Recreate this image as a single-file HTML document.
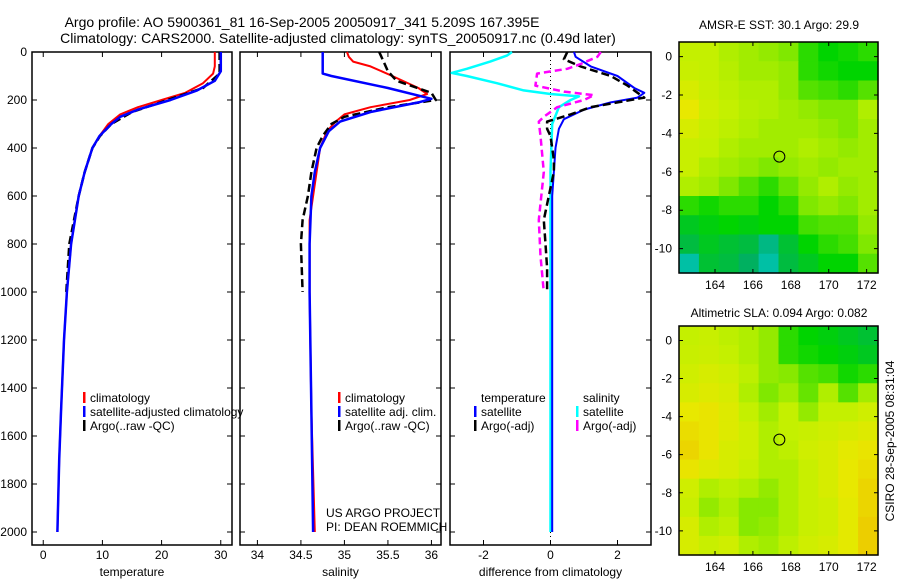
<!DOCTYPE html>
<html><head><meta charset="utf-8">
<style>
html,body{margin:0;padding:0;background:#fff;}
svg text{font-family:"Liberation Sans",sans-serif;fill:#000;}
</style></head>
<body>
<svg id="fig" width="900" height="580" xmlns="http://www.w3.org/2000/svg">
<text x="302" y="27" font-size="14" text-anchor="middle">Argo profile: AO 5900361_81 16-Sep-2005 20050917_341 5.209S 167.395E</text>
<text x="338" y="43" font-size="14" text-anchor="middle">Climatology: CARS2000. Satellite-adjusted climatology: synTS_20050917.nc (0.49d later)</text>
<text x="779" y="29" font-size="12" text-anchor="middle">AMSR-E SST: 30.1 Argo: 29.9</text>
<text x="779" y="317" font-size="12" text-anchor="middle">Altimetric SLA: 0.094 Argo: 0.082</text>
<text x="0" y="0" font-size="12" text-anchor="middle" transform="translate(894,441) rotate(-90)">CSIRO 28-Sep-2005 08:31:04</text>
<g id="layer"></g>
</svg>
<script>
// ---------- profile data ----------
const tempClimDepth = [0,60,90,130,170,200,230,260,300,350,400,500,600,800,1000,1200,1500,1700,1900,2000];
const tempClimValue = [29,29,28.7,27,24,20,16,13,11,9.5,8.3,7,6,4.7,4,3.5,3,2.7,2.5,2.4];
const tempSatDepth = [0,80,120,160,200,240,270,300,350,400,500,600,800,1000,1200,1500,1700,1900,2000];
const tempSatValue = [30,30,29,26,21.5,16,13,11.5,9.5,8.3,7,6,4.7,4,3.5,3,2.7,2.5,2.4];
const tempArgoDepth = [0,90,150,200,250,300,350,400,500,600,800,1000];
const tempArgoValue = [29.8,29.8,27,21,15,11.5,9.6,8.3,7,6,4.4,3.9];

const salClimDepth = [0,20,40,60,100,150,175,200,230,260,290,330,400,500,700,1000,1500,2000];
const salClimValue = [35.03,35.05,35.1,35.3,35.55,35.85,35.95,35.75,35.3,35.0,34.9,34.8,34.72,34.68,34.6,34.6,34.62,34.66];
const salSatDepth = [0,90,100,150,195,210,250,290,330,400,500,600,800,1000,1500,2000];
const salSatValue = [34.75,34.75,34.85,35.5,36.0,35.85,35.3,34.95,34.82,34.72,34.66,34.62,34.6,34.6,34.62,34.64];
const salArgoDepth = [0,40,80,120,170,200,230,270,300,350,400,500,600,700,800,1000];
const salArgoValue = [35.4,35.45,35.5,35.6,36.0,36.05,35.5,35.0,34.85,34.75,34.68,34.62,34.58,34.52,34.5,34.52];

const dTempSatDepth = [0,20,60,100,150,170,190,210,240,280,320,400,600,2000];
const dTempSatValue = [0.7,0.75,1.2,2.0,2.5,2.8,2.6,1.8,1.0,0.4,0.25,0.15,0.05,0.05];
const dSalSatDepth = [0,15,40,70,87,100,130,160,175,185,200,230,300,500,2000];
const dSalSatValue = [-1.15,-1.3,-1.8,-2.5,-2.95,-2.5,-1.6,-0.8,0.0,0.85,0.6,0.25,0.05,0.0,0.0];
const dTempArgoDepth = [0,30,60,100,140,170,190,210,230,260,290,320,350,450,500,600,700,800,900,1000];
const dTempArgoValue = [0.5,0.4,0.9,1.8,2.3,2.6,2.8,2.0,1.2,0.6,-0.1,-0.1,0.0,0.1,0.1,-0.05,-0.2,-0.15,-0.1,-0.1];
const dSalArgoDepth = [0,20,50,70,90,140,165,180,200,230,270,290,350,500,700,850,1000];
const dSalArgoValue = [1.5,1.4,0.9,0.5,-0.4,-0.45,0.4,1.3,1.0,0.2,-0.2,-0.35,-0.3,-0.2,-0.35,-0.3,-0.2];

const depthTicks = [0,200,400,600,800,1000,1200,1400,1600,1800,2000];
const tempTicks = [0,10,20,30];
const salTicks = [34,34.5,35,35.5,36];
const salTickLabels = ["34","34.5","35","35.5","36"];
const diffTicks = [-2,0,2];

// ---------- map data (colormap positions 0..1) ----------
const mapLonTicks = [164,166,168,170,172];
const mapLatTicks = [0,-2,-4,-6,-8,-10];
const sstGrid = [
[.75,.75,.72,.7,.68,.65,.55,.5,.52,.55],
[.76,.75,.73,.7,.7,.68,.55,.52,.5,.5],
[.8,.76,.74,.72,.72,.68,.6,.58,.55,.6],
[.85,.78,.75,.73,.72,.7,.68,.65,.65,.72],
[.8,.76,.74,.72,.7,.7,.7,.68,.65,.7],
[.76,.75,.72,.7,.7,.7,.72,.7,.68,.7],
[.76,.72,.7,.68,.65,.68,.7,.68,.7,.7],
[.72,.7,.65,.6,.55,.62,.68,.72,.68,.7],
[.55,.52,.55,.55,.5,.55,.65,.68,.65,.7],
[.45,.48,.5,.48,.5,.5,.58,.6,.6,.68],
[.4,.45,.42,.4,.3,.42,.5,.55,.58,.65],
[.25,.42,.4,.35,.25,.4,.45,.5,.5,.6]];
const slaGrid = [
[.75,.76,.74,.72,.68,.55,.5,.48,.45,.42],
[.76,.77,.75,.72,.68,.55,.52,.5,.48,.45],
[.78,.8,.78,.74,.68,.66,.6,.58,.52,.55],
[.8,.82,.8,.72,.65,.7,.62,.72,.6,.7],
[.85,.86,.82,.75,.7,.75,.68,.75,.75,.78],
[.88,.86,.82,.78,.72,.75,.76,.78,.8,.82],
[.9,.86,.8,.78,.72,.74,.78,.8,.84,.86],
[.86,.82,.8,.76,.72,.72,.76,.8,.85,.88],
[.78,.72,.74,.72,.68,.72,.76,.8,.85,.9],
[.76,.68,.72,.66,.66,.72,.76,.78,.84,.9],
[.8,.72,.74,.66,.68,.72,.76,.78,.84,.92],
[.8,.76,.78,.72,.7,.74,.78,.8,.84,.92]];
const argoLon = 167.395, argoLat = -5.209;

const NS="http://www.w3.org/2000/svg";
const layer=document.getElementById('layer');
function mk(tag,attrs,parent){const e=document.createElementNS(NS,tag);for(const k in attrs)e.setAttribute(k,attrs[k]);(parent||layer).appendChild(e);return e;}

// axes geometry
const yTop=52, yBot=545, dMax=2054;
const yScale=d=>yTop+(d/dMax)*(yBot-yTop);
const panels=[
 {name:'temperature',x0:32,x1:232,vmin:-1.9,vmax:31.9},
 {name:'salinity',x0:240,x1:441,vmin:33.8,vmax:36.11},
 {name:'difference',x0:450,x1:651,vmin:-3,vmax:3}];
function xs(p,v){return p.x0+(v-p.vmin)/(p.vmax-p.vmin)*(p.x1-p.x0);}

function frame(p,label,ticks,tickLabels,key){
  const r=mk('rect',{x:p.x0,y:yTop,width:p.x1-p.x0,height:yBot-yTop,fill:'none',stroke:'#000','stroke-width':1.5});
  
  
  ticks.forEach((t,i)=>{
    const x=xs(p,t);
    const tk=mk('path',{d:`M${x},${yBot}v-5M${x},${yTop}v5`,stroke:'#000','stroke-width':1});
    
    
    const tl=mk('text',{x:x,y:yBot+14,'font-size':12,'text-anchor':'middle'});
    tl.textContent=tickLabels[i];
    
    
  });
  depthTicks.forEach(d=>{
    const y=yScale(d);
    const tk=mk('path',{d:`M${p.x0},${y}h5M${p.x1},${y}h-5`,stroke:'#000','stroke-width':1});
    
    
  });
  const xl=mk('text',{x:(p.x0+p.x1)/2,y:576,'font-size':12,'text-anchor':'middle'});
  xl.textContent=label;
  
  
}
frame(panels[0],'temperature',tempTicks,tempTicks.map(String),'temperature');
frame(panels[1],'salinity',salTicks,salTickLabels,'salinity');
frame(panels[2],'difference from climatology',diffTicks,diffTicks.map(String),'difference');
depthTicks.forEach(d=>{
  const t=mk('text',{x:27,y:yScale(d)+4,'font-size':12,'text-anchor':'end'});
  t.textContent=String(d);
  
  
});
// zero line
{const p=panels[2];const x=xs(p,0);
 const z=mk('line',{x1:x,x2:x,y1:yTop,y2:yBot,stroke:'#000','stroke-width':1,'stroke-dasharray':'1,3'});
 
 }

function series(p,depths,vals,color,w,dash,name){
  const pts=depths.map((d,i)=>xs(p,vals[i]).toFixed(1)+','+yScale(d).toFixed(1)).join(' ');
  const a={points:pts,fill:'none',stroke:color,'stroke-width':w,'stroke-linejoin':'round'};
  if(dash)a['stroke-dasharray']=dash;
  const l=mk('polyline',a);
  
  
}
series(panels[0],tempClimDepth,tempClimValue,'#f00',2,null,'temp-climatology-line');
series(panels[0],tempArgoDepth,tempArgoValue,'#000',2.5,'8,4','temp-argo-line');
series(panels[0],tempSatDepth,tempSatValue,'#00f',2.5,null,'temp-satellite-line');
series(panels[1],salClimDepth,salClimValue,'#f00',2,null,'sal-climatology-line');
series(panels[1],salArgoDepth,salArgoValue,'#000',2.5,'8,4','sal-argo-line');
series(panels[1],salSatDepth,salSatValue,'#00f',2.5,null,'sal-satellite-line');
series(panels[2],dSalSatDepth,dSalSatValue,'#0ff',2.5,null,'diff-sal-satellite-line');
series(panels[2],dTempSatDepth,dTempSatValue,'#00f',2,null,'diff-temp-satellite-line');
series(panels[2],dTempArgoDepth,dTempArgoValue,'#000',2.5,'8,4','diff-temp-argo-line');
series(panels[2],dSalArgoDepth,dSalArgoValue,'#f0f',2.5,'7,4','diff-sal-argo-line');

function legendEntry(x,y,color,text,name){
  if(color){const b=mk('rect',{x:x,y:y-10,width:2.5,height:11,fill:color});
    
    }
  const t=mk('text',{x:x+7,y:y,'font-size':12});
  t.textContent=text;
  
  
}
legendEntry(83,402,'#f00','climatology','legend-entry-climatology');
legendEntry(83,416,'#00f','satellite-adjusted climatology','legend-entry-satellite-adjusted');
legendEntry(83,430,'#000','Argo(..raw -QC)','legend-entry-argo');
legendEntry(338,402,'#f00','climatology','legend-entry-sal-climatology');
legendEntry(338,416,'#00f','satellite adj. clim.','legend-entry-sal-satellite');
legendEntry(338,430,'#000','Argo(..raw -QC)','legend-entry-sal-argo');
legendEntry(474,402,null,'temperature','legend-header-temperature');
legendEntry(474,416,'#00f','satellite','legend-entry-diff-temp-satellite');
legendEntry(474,430,'#000','Argo(-adj)','legend-entry-diff-temp-argo');
legendEntry(576,402,null,'salinity','legend-header-salinity');
legendEntry(576,416,'#0ff','satellite','legend-entry-diff-sal-satellite');
legendEntry(576,430,'#f0f','Argo(-adj)','legend-entry-diff-sal-argo');
legendEntry(319,517,null,'US ARGO PROJECT','credit-project');
legendEntry(319,531,null,'PI: DEAN ROEMMICH','credit-pi');

// ---------- maps ----------
const cmapStops=[[0,[0,48,192]],[0.2,[0,200,200]],[0.35,[0,176,96]],[0.5,[0,212,0]],[0.65,[128,232,0]],[0.75,[196,240,0]],[0.85,[232,232,0]],[1,[240,176,0]]];
function cmap(v){for(let i=1;i<cmapStops.length;i++){if(v<=cmapStops[i][0]){const [a,ca]=cmapStops[i-1],[b,cb]=cmapStops[i];const t=(v-a)/(b-a);return 'rgb('+ca.map((c,k)=>Math.round(c+(cb[k]-c)*t)).join(',')+')';}}return 'rgb(240,176,0)';}
function drawMap(grid,top,bot,key){
  const x0=679,x1=878,lonMin=162.1,lonMax=172.6,latMax=0.76,latMin=-11.27;
  const mx=l=>x0+(l-lonMin)/(lonMax-lonMin)*(x1-x0);
  const my=l=>top+(latMax-l)/(latMax-latMin)*(bot-top);
  const rows=grid.length,cols=grid[0].length,cw=(x1-x0)/cols,ch=(bot-top)/rows;
  grid.forEach((row,r)=>row.forEach((v,c)=>{
    const cell=mk('rect',{x:x0+c*cw,y:top+r*ch,width:cw+0.6,height:ch+0.6,fill:cmap(v)});
    
    
  }));
  const f=mk('rect',{x:x0,y:top,width:x1-x0,height:bot-top,fill:'none',stroke:'#000','stroke-width':1.5});
  
  
  mapLonTicks.forEach(l=>{const x=mx(l);
    const tk=mk('path',{d:`M${x},${bot}v-4M${x},${top}v4`,stroke:'#000'});
    
    
    const t=mk('text',{x:x,y:bot+16,'font-size':12,'text-anchor':'middle'});t.textContent=String(l);
    
    });
  mapLatTicks.forEach(l=>{const y=my(l);
    const tk=mk('path',{d:`M${x0},${y}h4M${x1},${y}h-4`,stroke:'#000'});
    
    
    const t=mk('text',{x:x0-7,y:y+4,'font-size':12,'text-anchor':'end'});t.textContent=String(l);
    
    });
  const c=mk('circle',{cx:mx(argoLon),cy:my(argoLat),r:5.5,fill:'none',stroke:'#000','stroke-width':1});
  
  
}
drawMap(sstGrid,42,273,'sst-map');
drawMap(slaGrid,326,555,'sla-map');
</script>
</body></html>
